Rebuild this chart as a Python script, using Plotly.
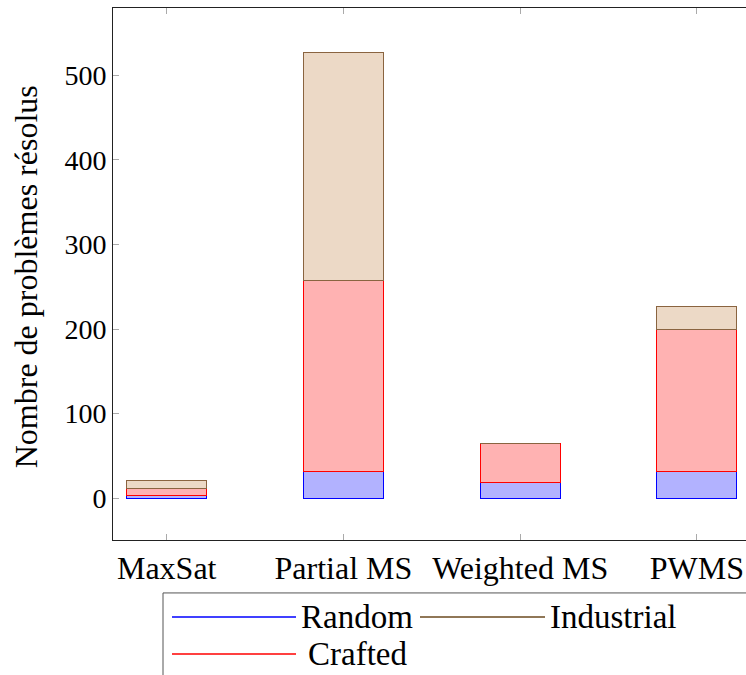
import plotly.graph_objects as go

categories = ["MaxSat", "Partial MS", "Weighted MS", "PWMS"]
random_vals = [3, 31, 19, 31]
crafted_vals = [8, 227, 45, 168]
industrial_vals = [10, 269, 0, 28]
y_ticks = [0, 100, 200, 300, 400, 500]

W, H = 746, 675
L, R, T, B = 113, 746, 7.5, 540  # plot area pixel bounds
FONT = "Liberation Serif"
FS_TICK = 28
FS_TEXT = 32
FS_LEG = 33

series = [
    ("Random", random_vals, "rgba(0,0,255,0.3)", "#0000ff"),
    ("Crafted", crafted_vals, "rgba(255,0,0,0.3)", "#ff0000"),
    ("Industrial", industrial_vals, "#ecd9c6", "#8a6440"),
]

fig = go.Figure()
xs = list(range(len(categories)))
for name, vals, fill, line in series:
    fig.add_trace(go.Bar(
        x=xs, y=vals, name=name, width=0.453,
        marker=dict(color=fill, line=dict(color=line, width=1)),
        showlegend=False,
    ))

def px2x(px):
    return (px - L) / (R - L)

def px2y(py):
    return (B - py) / (B - T)

shapes = []
annotations = []
# legend box
shapes.append(dict(type="rect", xref="paper", yref="paper",
                   x0=px2x(163), x1=px2x(760), y0=px2y(700), y1=px2y(593),
                   line=dict(color="#555555", width=1), fillcolor="white"))
legend_items = [
    ("Random", "#0000ff", 172, 296, 617, 299),
    ("Industrial", "#6b4a1f", 420, 545, 617, 548),
    ("Crafted", "#ff0000", 172, 296, 654, 306),
]
for text, col, lx0, lx1, ly, tx in legend_items:
    shapes.append(dict(type="line", xref="paper", yref="paper",
                       x0=px2x(lx0), x1=px2x(lx1), y0=px2y(ly), y1=px2y(ly),
                       line=dict(color=col, width=1.5)))
    annotations.append(dict(text=text, xref="paper", yref="paper",
                            x=px2x(tx), y=px2y(ly), xanchor="left", yanchor="middle",
                            showarrow=False, font=dict(family=FONT, size=FS_LEG, color="black")))

# y-axis title
annotations.append(dict(text="Nombre de problèmes résolus", xref="paper", yref="paper",
                        x=px2x(26), y=px2y(277), xanchor="center", yanchor="middle",
                        textangle=-90, showarrow=False,
                        font=dict(family=FONT, size=FS_TEXT, color="black")))

fig.update_layout(
    width=W, height=H,
    margin=dict(l=L, r=W - R, t=T, b=H - B),
    paper_bgcolor="white", plot_bgcolor="white",
    barmode="stack",
    font=dict(family=FONT, size=FS_TEXT, color="black"),
    shapes=shapes, annotations=annotations,
    xaxis=dict(
        range=[-0.304, 3.278], tickmode="array", tickvals=xs, ticktext=categories,
        ticks="inside", ticklen=6, tickcolor="#aaaaaa",
        showline=True, linecolor="#222222", linewidth=1, mirror="ticks",
        showgrid=False, zeroline=False,
        tickfont=dict(family=FONT, size=FS_TEXT),
    ),
    yaxis=dict(
        range=[-49.6, 579.8], tickmode="array", tickvals=y_ticks,
        ticks="inside", ticklen=6, tickcolor="#aaaaaa",
        showline=True, linecolor="#222222", linewidth=1,
        showgrid=False, zeroline=False,
        tickfont=dict(family=FONT, size=FS_TICK),
    ),
    yaxis2=dict(
        overlaying="y", side="right", matches="y", range=[-49.6, 579.8],
        tickmode="array", tickvals=y_ticks, ticks="inside", ticklen=6,
        tickcolor="#aaaaaa", showticklabels=False, showline=False,
        showgrid=False, zeroline=False,
    ),
)

fig.write_html("out.html")
